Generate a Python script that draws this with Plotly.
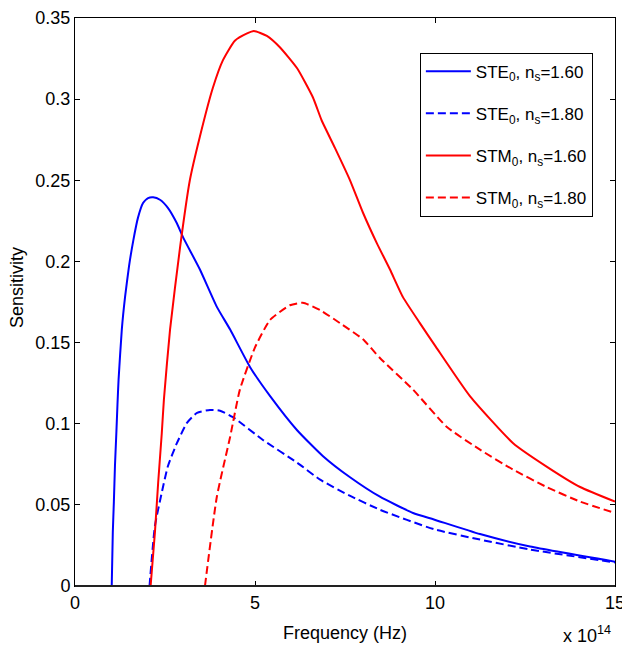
import plotly.graph_objects as go

# Frequency in units of 1e14 Hz
ste_160_x = [1.02, 1.05, 1.08, 1.11, 1.15, 1.18, 1.21, 1.30, 1.39, 1.50, 1.62, 1.75, 1.89, 2.03, 2.17, 2.36, 2.58,
             2.83, 3.00, 3.47, 3.94, 4.31, 4.86, 5.42, 6.17, 6.89, 7.64, 8.47, 9.39, 9.97, 11.25, 12.64, 15.0]
ste_160_y = [0.0, 0.033, 0.052, 0.074, 0.095, 0.112, 0.127, 0.158, 0.178, 0.197, 0.213, 0.227, 0.236, 0.239,
             0.2395, 0.238, 0.233, 0.2235, 0.215, 0.195, 0.172, 0.158, 0.135, 0.117, 0.096, 0.080, 0.067, 0.055,
             0.045, 0.041, 0.032, 0.0243, 0.015]

ste_180_x = [2.07, 2.22, 2.41, 2.58, 2.83, 3.11, 3.39, 3.75, 4.03, 4.39, 5.22, 6.17, 6.81, 7.60, 8.47, 9.97,
             11.25, 12.64, 15.0]
ste_180_y = [0.0, 0.037, 0.0575, 0.0738, 0.088, 0.1005, 0.1067, 0.1085, 0.108, 0.104, 0.090, 0.076, 0.0655,
             0.056, 0.047, 0.035, 0.0286, 0.0225, 0.0145]

stm_160_x = [2.10, 2.22, 2.31, 2.41, 2.47, 2.64, 2.92, 3.19, 3.47, 3.83, 4.11, 4.44, 4.78, 4.97, 5.33, 5.69, 6.17,
             6.61, 6.85, 7.22, 7.64, 8.00, 8.39, 8.75, 9.11, 9.58, 10.02, 10.97, 12.17, 13.10, 14.03, 15.0]
stm_160_y = [0.0, 0.033, 0.0636, 0.094, 0.115, 0.158, 0.209, 0.250, 0.277, 0.307, 0.324, 0.336, 0.3405, 0.342,
             0.339, 0.332, 0.319, 0.301, 0.287, 0.270, 0.250, 0.230, 0.211, 0.195, 0.178, 0.162, 0.1475, 0.117,
             0.088, 0.0736, 0.061, 0.052]

stm_180_x = [3.61, 3.94, 4.31, 4.58, 5.00, 5.42, 5.97, 6.33, 6.81, 7.36, 8.00, 8.47, 9.39, 10.33, 11.25, 12.17,
             13.10, 14.03, 15.0]
stm_180_y = [0.0, 0.055, 0.092, 0.121, 0.147, 0.164, 0.173, 0.1745, 0.170, 0.162, 0.152, 0.1405, 0.121, 0.098,
             0.084, 0.0717, 0.061, 0.052, 0.045]

x_tick_vals = [0, 5, 10, 15]
x_tick_text = ["0", "5", "10", "15"]
y_tick_vals = [0, 0.05, 0.1, 0.15, 0.2, 0.25, 0.3, 0.35]
y_tick_text = ["0", "0.05", "0.1", "0.15", "0.2", "0.25", "0.3", "0.35"]

series = [
    (ste_160_x, ste_160_y, "STE<sub>0</sub>, n<sub>s</sub>=1.60", "#0000FF", "solid"),
    (ste_180_x, ste_180_y, "STE<sub>0</sub>, n<sub>s</sub>=1.80", "#0000FF", "8px,4px"),
    (stm_160_x, stm_160_y, "STM<sub>0</sub>, n<sub>s</sub>=1.60", "#FF0000", "solid"),
    (stm_180_x, stm_180_y, "STM<sub>0</sub>, n<sub>s</sub>=1.80", "#FF0000", "8px,4px"),
]

FONT = "Liberation Sans, Arial, sans-serif"

fig = go.Figure()
for i, (xs, ys, name, color, dash) in enumerate(series):
    fig.add_trace(go.Scatter(x=xs, y=ys, mode="lines", name=name, legendgroup=f"g{i}",
                             line=dict(color=color, width=2, dash=dash, shape="spline", smoothing=0.5)))

axis_common = dict(showline=True, linecolor="black", linewidth=1, mirror="ticks", ticks="inside",
                   ticklen=5, tickcolor="black", showgrid=False, zeroline=False, automargin=False,
                   ticklabeloverflow="allow",
                   tickfont=dict(family=FONT, size=18, color="black"))

fig.update_layout(
    width=622, height=653,
    margin=dict(l=75, r=7, t=18, b=67),
    paper_bgcolor="white", plot_bgcolor="white",
    font=dict(family=FONT, size=18, color="black"),
    showlegend=True,
    legend=dict(x=0.959, y=0.939, xanchor="right", yanchor="top", bgcolor="white",
                bordercolor="black", borderwidth=1, traceorder="grouped", tracegroupgap=17,
                itemwidth=45,
                font=dict(family=FONT, size=17, color="black")),
    xaxis=dict(range=[0, 15], tickvals=x_tick_vals, ticktext=x_tick_text, **axis_common),
    yaxis=dict(range=[0, 0.35], tickvals=y_tick_vals, ticktext=y_tick_text, **axis_common),
)

fig.add_shape(type="line", xref="paper", yref="paper", x0=0, x1=1, y0=0, y1=0,
              line=dict(color="#222222", width=2))

fig.add_annotation(text="Frequency (Hz)", xref="paper", yref="paper", x=0.5, y=-0.082,
                   xanchor="center", yanchor="middle", showarrow=False,
                   font=dict(family=FONT, size=18, color="black"))
fig.add_annotation(text="Sensitivity", xref="paper", yref="paper", x=-0.107, y=0.525,
                   xanchor="center", yanchor="middle", textangle=-90, showarrow=False,
                   font=dict(family=FONT, size=18, color="black"))
fig.add_annotation(text="x 10<sup>14</sup>", xref="paper", yref="paper", x=1.0, y=-0.11,
                   xanchor="right", yanchor="bottom", showarrow=False, xshift=-2,
                   font=dict(family=FONT, size=18, color="black"))

fig.write_html("out.html", config={"displayModeBar": False},
               post_script="document.body.style.margin='0';")
